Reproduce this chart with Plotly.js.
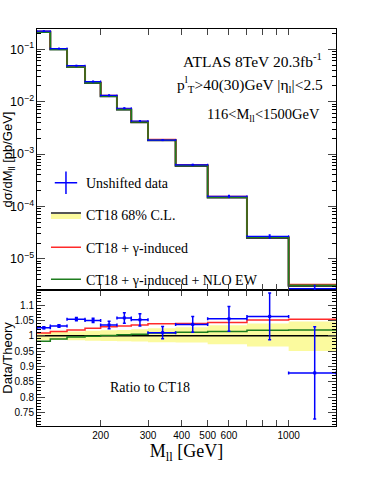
<!DOCTYPE html>
<html>
<head>
<meta charset="utf-8">
<script src="https://cdn.plot.ly/plotly-3.0.1.min.js"></script>
<style>body{margin:0;background:#fff;} #plot{width:374px;height:484px;}</style>
</head>
<body>
<div id="plot"></div>
<script>
// bin edges in M_ll [GeV]
var massEdges = [116, 130, 150, 175, 200, 230, 260, 300, 380, 500, 700, 1000, 1500];

// top panel: d sigma / dM [pb/GeV]
var dataXsec    = [0.2215, 0.1032, 0.0487, 0.0242, 0.01318, 0.00749, 0.00428, 0.00185, 0.000623, 0.0001567, 2.69e-5, 2.71e-6];
var dataXsecErr = [0.0007, 0.0004, 0.00025, 0.00017, 0.00012, 0.00009, 0.00007, 0.00003, 0.000016, 0.000006, 0.000002, 0.0000004];
var ct18Xsec    = [0.2159, 0.1000, 0.0462, 0.0230, 0.01273, 0.00708, 0.00407, 0.00183, 0.000601, 0.0001485, 2.53e-5, 3.08e-6];
var gammaXsec   = [0.2178, 0.1014, 0.0471, 0.02355, 0.0131, 0.00731, 0.00421, 0.0019, 0.000625, 0.0001549, 2.66e-5, 3.25e-6];
var ewXsec      = [0.2120, 0.0989, 0.0460, 0.02295, 0.01274, 0.0071, 0.00409, 0.001846, 0.000608, 0.0001506, 2.58e-5, 3.14e-6];

// ratio panel: data / theory (CT18)
var dataRatio    = [1.026, 1.032, 1.054, 1.050, 1.035, 1.058, 1.052, 1.010, 1.037, 1.055, 1.063, 0.879];
var dataRatioErr = [0.003, 0.004, 0.005, 0.007, 0.012, 0.017, 0.020, 0.020, 0.026, 0.040, 0.076, 0.150];
var ct18Ratio    = [1, 1, 1, 1, 1, 1, 1, 1, 1, 1, 1, 1];
var bandUp       = [1.010, 1.012, 1.014, 1.016, 1.018, 1.019, 1.021, 1.024, 1.028, 1.034, 1.040, 1.046];
var bandDown     = [0.985, 0.986, 0.985, 0.984, 0.983, 0.982, 0.981, 0.979, 0.978, 0.972, 0.965, 0.950];
var gammaRatio   = [1.009, 1.014, 1.019, 1.024, 1.029, 1.032, 1.035, 1.039, 1.040, 1.043, 1.051, 1.054];
var ewRatio      = [0.982, 0.989, 0.996, 0.998, 1.001, 1.003, 1.005, 1.009, 1.011, 1.014, 1.018, 1.019];

var xTickVals = [200, 300, 400, 500, 600, 700, 800, 900, 1000];
var xTickText = ['200', '300', '400', '500', '600', '', '', '', '1000'];

var blue = '#0000ff', red = '#ff2a2a', green = '#1e7d1e', yellow = '#fbfa9e';

// helpers for step histograms and bin centres
function steps(v) { return v.concat([v[v.length - 1]]); }
var centers = [], halfW = [];
for (var i = 0; i < massEdges.length - 1; i++) {
    centers.push((massEdges[i] + massEdges[i + 1]) / 2);
    halfW.push((massEdges[i + 1] - massEdges[i]) / 2);
}

function stepTrace(vals, color, width, xa, ya) {
    return {
        x: massEdges, y: steps(vals), xaxis: xa, yaxis: ya,
        type: 'scatter', mode: 'lines',
        line: {shape: 'hv', color: color, width: width},
        showlegend: false, hoverinfo: 'skip'
    };
}

var data = [
    // ratio panel
    {x: massEdges, y: steps(bandDown), type: 'scatter', mode: 'lines', line: {shape: 'hv', width: 0},
     showlegend: false, hoverinfo: 'skip'},
    {x: massEdges, y: steps(bandUp), type: 'scatter', mode: 'lines', line: {shape: 'hv', width: 0},
     fill: 'tonexty', fillcolor: yellow, showlegend: false, hoverinfo: 'skip'},
    stepTrace(ct18Ratio, '#000', 1.5, 'x', 'y'),
    stepTrace(gammaRatio, red, 1.5, 'x', 'y'),
    stepTrace(ewRatio, green, 1.5, 'x', 'y'),
    {x: centers, y: dataRatio, type: 'scatter', mode: 'markers',
     marker: {symbol: 'square', size: 3, color: blue},
     error_x: {type: 'data', array: halfW, color: blue, thickness: 1.5, width: 1.5},
     error_y: {type: 'data', array: dataRatioErr, color: blue, thickness: 1.5, width: 1.5},
     showlegend: false},

    // top panel
    stepTrace(ct18Xsec, '#000', 2, 'x2', 'y2'),
    stepTrace(gammaXsec, red, 1.5, 'x2', 'y2'),
    stepTrace(ewXsec, green, 1.5, 'x2', 'y2'),
    {x: centers, y: dataXsec, xaxis: 'x2', yaxis: 'y2', type: 'scatter', mode: 'markers',
     marker: {symbol: 'square', size: 2, color: blue},
     error_x: {type: 'data', array: halfW, color: blue, thickness: 1.2, width: 1},
     error_y: {type: 'data', array: dataXsecErr, color: blue, thickness: 1.2, width: 1},
     showlegend: false},

    // legend entries
    {x: [null], y: [null], xaxis: 'x2', yaxis: 'y2', type: 'scatter', mode: 'markers',
     name: 'Unshifted data', legendgroup: 'a', legendrank: 1,
     marker: {symbol: 'cross-thin', size: 16, line: {color: blue, width: 1.5}}},
    {x: [null], y: [null], xaxis: 'x2', yaxis: 'y2', type: 'scatter', mode: 'lines',
     name: 'CT18 68% C.L.', legendgroup: 'b', legendrank: 2,
     fill: 'toself', fillcolor: yellow, line: {color: '#555', width: 2}},
    {x: [null], y: [null], xaxis: 'x2', yaxis: 'y2', type: 'scatter', mode: 'lines',
     name: 'CT18 + γ-induced', legendgroup: 'c', legendrank: 3,
     line: {color: red, width: 1.5}},
    {x: [null], y: [null], xaxis: 'x2', yaxis: 'y2', type: 'scatter', mode: 'lines',
     name: 'CT18 + γ-induced + NLO EW', legendgroup: 'd', legendrank: 4,
     line: {color: green, width: 1.5}}
];

var sans = 'Liberation Sans, Arial, sans-serif';
var serif = 'Liberation Serif, Times New Roman, serif';
var split = 0.3426;

function note(x, y, text, size) {
    return {xref: 'paper', yref: 'paper', x: x, y: y, xanchor: 'center', yanchor: 'middle',
            showarrow: false, text: text, font: {family: serif, size: size, color: '#000'}};
}

var layout = {
    width: 374, height: 484,
    margin: {l: 37, r: 38, t: 29, b: 58},
    paper_bgcolor: '#fff', plot_bgcolor: '#fff',
    showlegend: true,
    legend: {x: 0.03, y: 0.652, xanchor: 'left', yanchor: 'top',
             font: {family: serif, size: 14, color: '#000'},
             bgcolor: 'rgba(0,0,0,0)', itemwidth: 30, tracegroupgap: 11},
    xaxis: {
        type: 'log', range: [Math.log10(116), Math.log10(1500)], domain: [0, 1], anchor: 'y',
        tickvals: xTickVals, ticktext: xTickText, ticks: 'inside', ticklen: 6,
        tickfont: {family: sans, size: 10, color: '#000'},
        showline: true, linecolor: '#000', linewidth: 1, mirror: 'allticks',
        showgrid: false, zeroline: false,
        title: {text: 'M<sub>ll</sub> [GeV]', font: {family: serif, size: 18, color: '#000'}, standoff: 4}
    },
    xaxis2: {
        type: 'log', matches: 'x', anchor: 'y2', domain: [0, 1],
        tickvals: xTickVals, ticktext: xTickText, ticks: 'inside', ticklen: 6, showticklabels: false,
        showline: true, linecolor: '#000', linewidth: 1, mirror: 'allticks',
        showgrid: false, zeroline: false
    },
    yaxis: {
        domain: [0, split], range: [0.706, 1.149], dtick: 0.05, tick0: 0,
        ticks: 'inside', ticklen: 8,
        minor: {dtick: 0.01, ticks: 'inside', ticklen: 4, tickcolor: '#000', showgrid: false},
        tickfont: {family: sans, size: 10, color: '#000'},
        showline: true, linecolor: '#000', linewidth: 1, mirror: 'allticks',
        showgrid: false, zeroline: false,
        title: {text: 'Data/Theory', font: {family: sans, size: 13, color: '#000'}, standoff: 4}
    },
    yaxis2: {
        type: 'log', domain: [split, 1], range: [Math.log10(2.55e-6), Math.log10(0.244)],
        dtick: 1, exponentformat: 'power', ticks: 'inside', ticklen: 8,
        minor: {dtick: 'D1', ticks: 'inside', ticklen: 4, tickcolor: '#000', showgrid: false},
        tickfont: {family: sans, size: 10, color: '#000'},
        showline: true, linecolor: '#000', linewidth: 1, mirror: 'allticks',
        showgrid: false, zeroline: false,
        title: {text: 'dσ/dM<sub>ll</sub> [pb/GeV]', font: {family: sans, size: 13, color: '#000'}, standoff: 4}
    },
    annotations: [
        note(0.722, 0.922, 'ATLAS 8TeV 20.3fb<sup>-1</sup>', 15.5),
        note(0.714, 0.861, 'p<sup>l</sup><sub>T</sub>&gt;40(30)GeV |η<sub>l</sub>|&lt;2.5', 15.5),
        note(0.756, 0.783, '116&lt;M<sub>ll</sub>&lt;1500GeV', 14.5),
        note(0.378, 0.096, 'Ratio to CT18', 14)
    ]
};

Plotly.newPlot('plot', data, layout, {displayModeBar: false, staticPlot: true});
</script>
</body>
</html>
